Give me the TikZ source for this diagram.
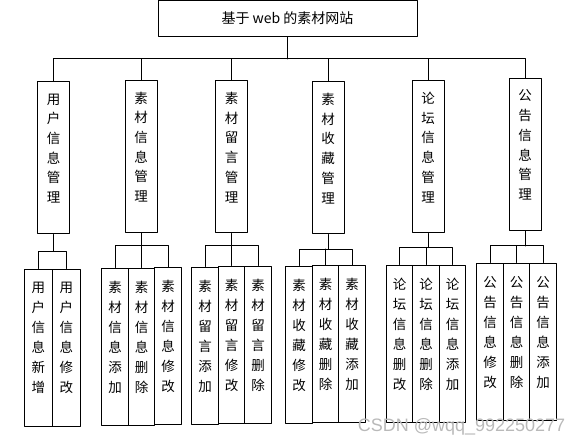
\documentclass[tikz,border=0pt]{standalone}
\usepackage{fontspec}
\setmainfont{Noto Sans CJK SC}
\newfontfamily\wmfont{Liberation Sans}
\begin{document}
\begin{tikzpicture}[line join=round,line cap=round,line width=1pt,x=1pt,y=-1pt,font=\fontsize{13.5}{19.7}\selectfont,
	mainbox/.style={draw,minimum width=259pt,minimum height=36pt,inner sep=0pt,font=\fontsize{14}{14}\selectfont},
	modbox/.style={draw,minimum width=32pt,minimum height=152pt,inner sep=0pt,align=center},
	subbox/.style={draw,minimum width=26.5pt,minimum height=157pt,inner sep=0pt,align=center,font=\fontsize{13.5}{20}\selectfont}]
		\useasboundingbox (0,0) rectangle (583,446);
		\node[mainbox] (root) at (287.5,18.5) {基于 web 的素材网站};
		
		\node[modbox] (m1) at (53.5,158) {用\\户\\信\\息\\管\\理\\\mbox{}};
		\node[modbox] (m2) at (141,156.5) {素\\材\\信\\息\\管\\理\\\mbox{}};
		\node[modbox] (m3) at (231.5,157) {素\\材\\留\\言\\管\\理\\\mbox{}};
		\node[modbox] (m4) at (328,158) {素\\材\\收\\藏\\管\\理\\\mbox{}};
		\node[modbox] (m5) at (428,157) {论\\坛\\信\\息\\管\\理\\\mbox{}};
		\node[modbox] (m6) at (525,154.5) {公\\告\\信\\息\\管\\理\\\mbox{}};
		
		\coordinate (bus) at (0,59);
		\draw (root.south) -- (root.south |- bus);
		\draw (m1.north) -- (m1.north |- bus) -- (m6.north |- bus) -- (m6.north);
		\draw (m2.north |- bus) -- (m2.north);
		\draw (m3.north |- bus) -- (m3.north);
		\draw (m4.north |- bus) -- (m4.north);
		\draw (m5.north |- bus) -- (m5.north);
		
		\node[subbox,minimum width=28pt] (s11) at (38.3,347.5) {用\\户\\信\\息\\新\\增\\\mbox{}};
		\node[subbox,minimum width=28pt] (s12) at (66.3,347.5) {用\\户\\信\\息\\修\\改\\\mbox{}};
		
		\node[subbox] (s21) at (115,346.5) {素\\材\\信\\息\\添\\加\\\mbox{}};
		\node[subbox] (s22) at (141.5,346.5) {素\\材\\信\\息\\删\\除\\\mbox{}};
		\node[subbox] (s23) at (168,346) {素\\材\\信\\息\\修\\改\\\mbox{}};
		
		\node[subbox] (s31) at (205,345.5) {素\\材\\留\\言\\添\\加\\\mbox{}};
		\node[subbox] (s32) at (231.5,344.5) {素\\材\\留\\言\\修\\改\\\mbox{}};
		\node[subbox] (s33) at (258,344.5) {素\\材\\留\\言\\删\\除\\\mbox{}};
		
		\node[subbox] (s41) at (299,344.5) {素\\材\\收\\藏\\修\\改\\\mbox{}};
		\node[subbox] (s42) at (325.5,344) {素\\材\\收\\藏\\删\\除\\\mbox{}};
		\node[subbox] (s43) at (352,344) {素\\材\\收\\藏\\添\\加\\\mbox{}};
		
		\node[subbox] (s51) at (399.5,343.5) {论\\坛\\信\\息\\删\\改\\\mbox{}};
		\node[subbox] (s52) at (426,343.5) {论\\坛\\信\\息\\删\\除\\\mbox{}};
		\node[subbox] (s53) at (452.5,343.5) {论\\坛\\信\\息\\添\\加\\\mbox{}};
		
		\node[subbox] (s61) at (490,341.5) {公\\告\\信\\息\\修\\改\\\mbox{}};
		\node[subbox] (s62) at (516.5,341.5) {公\\告\\信\\息\\删\\除\\\mbox{}};
		\node[subbox] (s63) at (543,341.5) {公\\告\\信\\息\\添\\加\\\mbox{}};
		
		\coordinate (b1) at (0,251);
		\coordinate (b2) at (0,246);
		\coordinate (b3) at (0,246);
		\coordinate (b4) at (0,249);
		\coordinate (b5) at (0,247.5);
		\coordinate (b6) at (0,246);
		\draw (m1.south) -- (m1.south |- b1);
		\draw (s11.north) -- (s11.north |- b1) -- (s12.north |- b1) -- (s12.north);
		\draw (m2.south) -- (m2.south |- b2);
		\draw (s21.north) -- (s21.north |- b2) -- (s23.north |- b2) -- (s23.north);
		\draw (s22.north |- b2) -- (s22.north);
		\draw (m3.south) -- (m3.south |- b3);
		\draw (s31.north) -- (s31.north |- b3) -- (s33.north |- b3) -- (s33.north);
		\draw (s32.north |- b3) -- (s32.north);
		\draw (m4.south) -- (m4.south |- b4);
		\draw (s41.north) -- (s41.north |- b4) -- (s43.north |- b4) -- (s43.north);
		\draw (s42.north |- b4) -- (s42.north);
		\draw (m5.south) -- (m5.south |- b5);
		\draw (s51.north) -- (s51.north |- b5) -- (s53.north |- b5) -- (s53.north);
		\draw (s52.north |- b5) -- (s52.north);
		\draw (m6.south) -- (m6.south |- b6);
		\draw (s61.north) -- (s61.north |- b6) -- (s63.north |- b6) -- (s63.north);
		\draw (s62.north |- b6) -- (s62.north);
		
		\node[text=gray!55,font=\wmfont\fontsize{18}{18}\selectfont] (mark) at (461.5,427) {CSDN @wqq\_992250277};
\end{tikzpicture}
\end{document}
